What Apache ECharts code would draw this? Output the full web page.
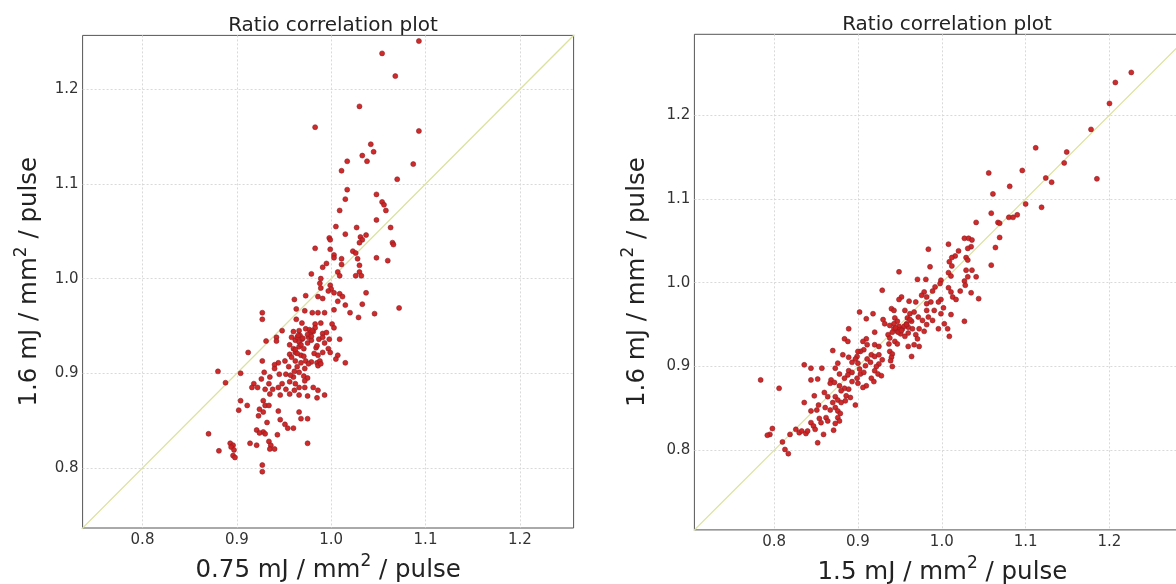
<!DOCTYPE html>
<html>
<head>
<meta charset="utf-8">
<script src="https://cdn.jsdelivr.net/npm/echarts@6/dist/echarts.min.js"></script>
<style>
html,body{margin:0;padding:0;background:#fff;}
#chart{width:1176px;height:584px;}
</style>
</head>
<body>
<div id="chart"></div>
<script>
// ---- data ----
var titleText = 'Ratio correlation plot';
var yAxisTitle = ['1.6 mJ / mm', '2', ' / pulse'];
var leftXTitle = ['0.75 mJ / mm', '2', ' / pulse'];
var rightXTitle = ['1.5 mJ / mm', '2', ' / pulse'];
var leftRange = [0.7365, 1.257];
var rightRange = [0.705, 1.2965];
var diagonal = [0.6, 1.4];

var leftX = [1.093,1.054,1.068,1.030,0.983,1.093,1.042,1.033,1.045,1.038,1.017,1.087,1.011,1.070,1.017,1.048,1.009,1.054,1.056,1.058,1.015,1.048,1.005,1.027,1.063,0.998,0.999,1.015,1.031,1.033,1.030,1.037,1.065,1.066,0.983,0.999,1.023,1.026,1.003,1.003,1.011,1.011,1.028,1.060,1.048,0.995,0.991,1.007,1.009,1.030,1.030,1.026,1.032,0.979,0.989,0.988,0.999,1.000,0.997,1.003,1.009,1.012,1.037,0.989,0.973,0.986,0.991,0.961,1.007,1.015,1.033,1.072,0.972,0.980,0.986,0.993,1.003,1.020,1.029,1.046,0.927,0.927,0.963,0.963,0.969,0.983,0.989,1.001,1.003,0.948,0.960,0.966,0.973,0.977,0.981,0.983,0.991,0.995,0.942,0.942,0.931,0.958,0.962,0.964,0.967,0.969,0.966,0.976,0.979,0.975,0.987,0.991,0.993,0.998,1.009,0.956,0.960,0.966,0.971,0.984,0.997,0.999,0.912,0.962,0.956,0.968,0.982,0.986,0.991,1.007,1.005,0.927,0.944,0.951,0.962,0.968,0.973,0.979,0.985,0.988,1.015,0.940,0.940,0.955,0.964,0.972,0.976,0.986,0.989,0.880,0.888,0.904,0.929,0.935,0.926,0.945,0.952,0.960,0.966,0.971,0.975,0.972,0.918,0.922,0.916,0.934,0.930,0.938,0.944,0.948,0.952,0.956,0.962,0.966,0.972,0.961,0.981,0.986,0.993,0.975,0.985,0.935,0.946,0.956,0.966,0.904,0.911,0.902,0.928,0.930,0.934,0.924,0.928,0.923,0.944,0.946,0.966,0.968,0.975,0.951,0.954,0.960,0.932,0.928,0.930,0.921,0.924,0.870,0.943,0.914,0.921,0.934,0.936,0.893,0.896,0.894,0.897,0.896,0.898,0.881,0.935,0.940,0.975,0.927,0.927,0.965,0.970,0.978,0.980,0.968,0.975,0.962,0.958,0.964,0.971,0.985,0.979,0.961,0.957];
var leftY = [1.251,1.238,1.214,1.182,1.160,1.156,1.142,1.130,1.134,1.124,1.124,1.121,1.114,1.105,1.094,1.089,1.072,1.081,1.078,1.072,1.084,1.062,1.055,1.054,1.054,1.043,1.041,1.047,1.044,1.041,1.038,1.046,1.038,1.036,1.032,1.031,1.029,1.027,1.025,1.022,1.021,1.015,1.021,1.019,1.022,1.016,1.012,1.007,1.003,1.014,1.007,1.003,1.003,1.005,1.000,0.995,0.993,0.989,0.987,0.985,0.984,0.981,0.985,0.990,0.982,0.981,0.979,0.978,0.976,0.972,0.973,0.969,0.966,0.964,0.964,0.964,0.967,0.964,0.959,0.963,0.964,0.957,0.968,0.957,0.953,0.952,0.953,0.952,0.948,0.945,0.944,0.945,0.947,0.946,0.944,0.948,0.942,0.943,0.938,0.934,0.934,0.938,0.935,0.938,0.940,0.936,0.933,0.938,0.935,0.932,0.936,0.938,0.932,0.936,0.936,0.930,0.926,0.928,0.926,0.927,0.926,0.922,0.922,0.922,0.920,0.919,0.921,0.919,0.922,0.919,0.915,0.913,0.911,0.913,0.913,0.911,0.913,0.912,0.911,0.913,0.911,0.909,0.905,0.907,0.907,0.905,0.910,0.908,0.910,0.902,0.890,0.900,0.901,0.896,0.894,0.899,0.899,0.896,0.901,0.897,0.895,0.892,0.889,0.885,0.885,0.889,0.883,0.883,0.885,0.889,0.883,0.891,0.889,0.885,0.885,0.882,0.885,0.882,0.877,0.876,0.874,0.878,0.877,0.878,0.877,0.871,0.866,0.861,0.871,0.866,0.866,0.862,0.859,0.855,0.860,0.851,0.859,0.852,0.852,0.846,0.842,0.842,0.848,0.838,0.836,0.840,0.837,0.836,0.835,0.826,0.824,0.828,0.824,0.826,0.824,0.822,0.819,0.813,0.811,0.818,0.820,0.820,0.826,0.803,0.796,0.940,0.937,0.943,0.945,0.930,0.941,0.925,0.917,0.921,0.918,0.929,0.939,0.902,0.898];

var rightX = [1.226,1.207,1.200,1.178,1.112,1.149,1.146,1.096,1.056,1.185,1.124,1.131,1.081,1.061,1.100,1.119,1.059,1.067,1.069,1.080,1.085,1.090,1.041,1.069,1.027,1.032,1.036,1.035,1.031,1.008,1.064,0.984,1.020,1.016,1.012,1.029,1.031,1.009,1.012,1.059,0.986,1.029,1.036,0.949,1.008,1.011,1.031,1.041,0.999,0.998,0.971,0.981,1.027,1.028,0.929,0.992,0.989,1.008,1.011,1.022,1.035,0.979,0.976,0.982,0.952,0.949,0.999,0.996,1.013,1.017,1.044,0.961,0.969,0.982,0.987,0.940,0.943,0.902,0.918,0.956,0.962,0.967,0.982,0.991,1.002,0.999,1.011,0.910,0.930,0.932,0.944,0.947,0.943,0.959,0.964,0.958,0.972,0.977,0.984,0.989,0.982,1.027,0.996,1.003,1.007,0.889,0.938,0.943,0.949,0.953,0.960,0.965,0.973,0.979,0.941,0.947,0.951,0.936,0.938,0.960,0.956,0.969,0.971,1.009,0.884,0.888,0.910,0.906,0.920,0.944,0.937,0.947,0.960,0.967,0.973,0.911,0.920,0.925,0.907,0.903,0.870,0.882,0.889,0.900,0.899,0.938,0.941,0.940,0.964,0.916,0.920,0.925,0.897,0.893,0.900,0.911,0.915,0.909,0.929,0.925,0.922,0.939,0.941,0.836,0.844,0.857,0.876,0.873,0.889,0.893,0.888,0.878,0.884,0.902,0.903,0.907,0.920,0.924,0.928,0.916,0.919,0.899,0.893,0.900,0.910,0.906,0.868,0.867,0.872,0.852,0.844,0.784,0.806,0.878,0.884,0.880,0.889,0.886,0.891,0.860,0.864,0.848,0.873,0.876,0.870,0.880,0.885,0.836,0.897,0.853,0.851,0.861,0.867,0.873,0.876,0.879,0.844,0.862,0.864,0.876,0.878,0.873,0.854,0.856,0.844,0.871,0.847,0.849,0.826,0.830,0.833,0.838,0.840,0.859,0.798,0.795,0.792,0.819,0.810,0.852,0.813,0.817,0.945,0.950,0.955,0.948,0.952,0.958,0.962];
var rightY = [1.251,1.239,1.214,1.183,1.161,1.156,1.143,1.134,1.131,1.124,1.125,1.120,1.115,1.106,1.094,1.090,1.083,1.072,1.071,1.078,1.078,1.081,1.072,1.054,1.053,1.053,1.051,1.043,1.041,1.046,1.042,1.040,1.038,1.032,1.030,1.030,1.027,1.025,1.020,1.021,1.019,1.015,1.015,1.013,1.012,1.008,1.007,1.007,1.003,0.999,1.004,1.004,1.002,0.997,0.991,0.995,0.990,0.994,0.989,0.990,0.988,0.989,0.985,0.983,0.983,0.980,0.980,0.977,0.983,0.980,0.981,0.978,0.977,0.975,0.977,0.969,0.967,0.965,0.963,0.967,0.963,0.965,0.967,0.967,0.970,0.963,0.962,0.957,0.956,0.951,0.958,0.954,0.951,0.958,0.954,0.951,0.959,0.955,0.959,0.955,0.950,0.954,0.945,0.951,0.945,0.945,0.949,0.945,0.948,0.945,0.947,0.945,0.945,0.942,0.941,0.942,0.939,0.938,0.934,0.940,0.936,0.938,0.933,0.936,0.933,0.930,0.933,0.930,0.941,0.930,0.927,0.927,0.924,0.926,0.924,0.926,0.926,0.924,0.920,0.918,0.919,0.914,0.911,0.918,0.912,0.918,0.915,0.911,0.912,0.914,0.912,0.914,0.909,0.905,0.904,0.909,0.905,0.901,0.908,0.903,0.900,0.907,0.900,0.902,0.898,0.898,0.904,0.898,0.895,0.893,0.890,0.891,0.886,0.897,0.891,0.893,0.895,0.891,0.889,0.886,0.882,0.886,0.882,0.880,0.877,0.875,0.884,0.880,0.881,0.885,0.884,0.884,0.874,0.877,0.874,0.871,0.873,0.865,0.863,0.869,0.864,0.865,0.864,0.860,0.857,0.857,0.859,0.857,0.854,0.854,0.848,0.851,0.848,0.851,0.847,0.844,0.847,0.839,0.835,0.839,0.835,0.832,0.838,0.833,0.833,0.824,0.829,0.825,0.825,0.821,0.823,0.820,0.823,0.819,0.826,0.819,0.818,0.819,0.810,0.809,0.801,0.796,0.946,0.944,0.948,0.941,0.943,0.950,0.956];

// ---- build options ----
function zip(xs, ys){ var out=[]; for(var i=0;i<xs.length;i++){ out.push([xs[i], ys[i]]); } return out; }
function richName(parts){ return '{n|' + parts[0] + '}{s|' + parts[1] + '}{n|' + parts[2] + '}'; }

var FONT = 'DejaVu Sans';
var nameRich = {
  n: {fontSize: 24.5, fontFamily: FONT, color: '#222', lineHeight: 30, verticalAlign: 'bottom'},
  s: {fontSize: 17, fontFamily: FONT, color: '#222', lineHeight: 30, verticalAlign: 'top'}
};

var splitStyle = {show: true, showMinLine: false, showMaxLine: false, lineStyle: {color: '#d9d9d9', type: [2, 2], width: 1}};

function xAxisFor(idx, range, parts){
  return {
    type: 'value', gridIndex: idx, min: range[0], max: range[1],
    minInterval: 0.1, maxInterval: 0.1,
    name: richName(parts), nameLocation: 'middle', nameGap: 22,
    nameTextStyle: {rich: nameRich},
    axisLine: {show: false}, axisTick: {show: false},
    axisLabel: {showMinLabel: false, showMaxLabel: false, fontSize: 15, fontFamily: FONT, color: '#333', margin: 5,
      formatter: function(v){ return v.toFixed(1); }},
    splitLine: splitStyle
  };
}
function yAxisFor(idx, range, gap){
  return {
    type: 'value', gridIndex: idx, min: range[0], max: range[1],
    minInterval: 0.1, maxInterval: 0.1,
    name: richName(yAxisTitle), nameLocation: 'middle', nameGap: gap,
    nameTextStyle: {rich: nameRich},
    axisLine: {show: false}, axisTick: {show: false},
    axisLabel: {showMinLabel: false, showMaxLabel: false, fontSize: 15, fontFamily: FONT, color: '#333', margin: 4,
      formatter: function(v){ return v.toFixed(1); }},
    splitLine: splitStyle
  };
}

var pointStyle = {color: '#cc2020', borderColor: '#8a1c24', borderWidth: 0.6, opacity: 0.95};
var lineStyle = {color: '#dbe29e', width: 1.3};
var titleStyle = {fontSize: 20, fontWeight: 'normal', fontFamily: FONT, color: '#222'};

var option = {
  backgroundColor: '#fff',
  animation: false,
  title: [
    {text: titleText, left: 328, top: 11, textAlign: 'center', textStyle: titleStyle},
    {text: titleText, left: 942, top: 10, textAlign: 'center', textStyle: titleStyle}
  ],
  grid: [
    {left: 82.6, top: 35.4, width: 491, height: 492.6, show: true, borderColor: '#555', borderWidth: 1, backgroundColor: 'transparent', outerBoundsMode: 'none', containLabel: false},
    {left: 694.4, top: 34.3, width: 496, height: 495.6, show: true, borderColor: '#555', borderWidth: 1, backgroundColor: 'transparent', outerBoundsMode: 'none', containLabel: false}
  ],
  xAxis: [xAxisFor(0, leftRange, leftXTitle), xAxisFor(1, rightRange, rightXTitle)],
  yAxis: [yAxisFor(0, leftRange, 40), yAxisFor(1, rightRange, 44)],
  series: [
    {type: 'line', xAxisIndex: 0, yAxisIndex: 0, data: [[diagonal[0], diagonal[0]], [diagonal[1], diagonal[1]]], showSymbol: false, symbol: 'none', lineStyle: lineStyle, clip: true, z: 1},
    {type: 'scatter', xAxisIndex: 0, yAxisIndex: 0, data: zip(leftX, leftY), symbolSize: 5, itemStyle: pointStyle, z: 2},
    {type: 'line', xAxisIndex: 1, yAxisIndex: 1, data: [[diagonal[0], diagonal[0]], [diagonal[1], diagonal[1]]], showSymbol: false, symbol: 'none', lineStyle: lineStyle, clip: true, z: 1},
    {type: 'scatter', xAxisIndex: 1, yAxisIndex: 1, data: zip(rightX, rightY), symbolSize: 5, itemStyle: pointStyle, z: 2}
  ]
};

var chart = echarts.init(document.getElementById('chart'), null, {renderer: 'canvas'});
chart.setOption(option);
</script>
</body>
</html>
